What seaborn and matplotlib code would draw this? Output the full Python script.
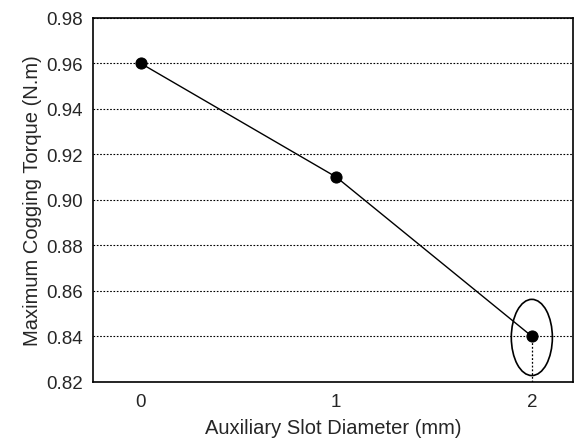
import matplotlib
matplotlib.use("Agg")
import matplotlib.pyplot as plt
from matplotlib.patches import Ellipse
import pandas as pd
import seaborn as sns

# Data
slot_diameter = [0, 1, 2]
cogging_torque = [0.96, 0.91, 0.84]
y_ticks = [0.82, 0.84, 0.86, 0.88, 0.90, 0.92, 0.94, 0.96, 0.98]

df = pd.DataFrame({"diameter": slot_diameter, "torque": cogging_torque})

sns.set_style("white")
plt.rcParams["font.family"] = ["Liberation Sans", "DejaVu Sans"]

fig = plt.figure(figsize=(5.84, 4.39), dpi=100)
ax = fig.add_axes([0.159, 0.128, 0.822, 0.829])

sns.lineplot(data=df, x="diameter", y="torque", color="black", linewidth=1,
             marker="o", markersize=8, markeredgecolor="black", ax=ax)

ax.set_xlim(-0.245, 2.21)
ax.set_ylim(0.82, 0.98)
ax.set_xticks(slot_diameter)
ax.set_yticks(y_ticks)
ax.set_yticklabels([f"{v:.2f}" for v in y_ticks])

# horizontal dotted grid
dots = (0, (1.5, 1.5))
ax.yaxis.grid(True, linestyle=dots, color="black", linewidth=0.8)
ax.xaxis.grid(False)

# highlight the minimum point
ax.plot([slot_diameter[-1], slot_diameter[-1]], [0.82, cogging_torque[-1]],
        linestyle=dots, color="black", linewidth=0.9)
ax.add_patch(Ellipse((slot_diameter[-1], cogging_torque[-1] - 0.0005), 0.21, 0.0335,
                     fill=False, edgecolor="black", linewidth=1.2))

for s in ax.spines.values():
    s.set_color("black")
    s.set_linewidth(1.2)

ax.tick_params(axis="x", direction="in", length=4, width=1, labelsize=13.5, pad=8)
ax.tick_params(axis="y", length=0, labelsize=13.5, pad=7)
ax.set_xlabel("Auxiliary Slot Diameter (mm)", fontsize=14.5, labelpad=6)
ax.set_ylabel("Maximum Cogging Torque (N.m)", fontsize=14.5, labelpad=3)

fig.savefig("out.png", dpi=100)
